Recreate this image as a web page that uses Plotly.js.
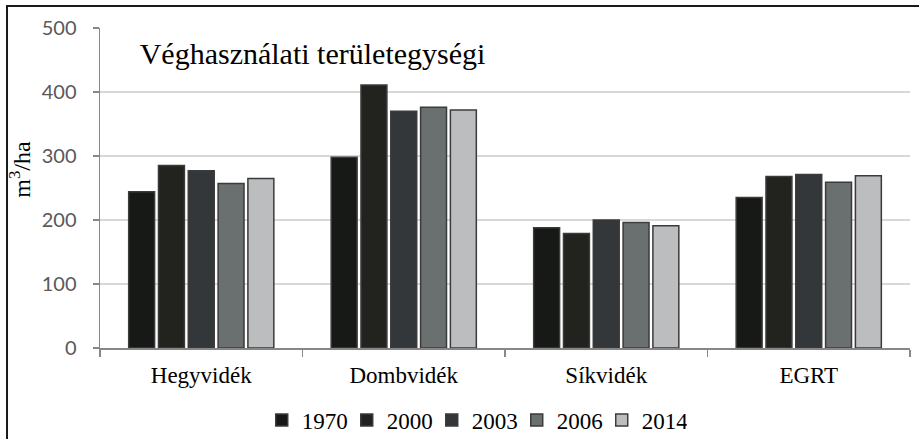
<!DOCTYPE html>
<html>
<head>
<meta charset="utf-8">
<script src="https://cdn.plot.ly/plotly-3.0.1.min.js"></script>
<style>html,body{margin:0;padding:0;background:#fff;}#chart{width:919px;height:439px;}</style>
</head>
<body>
<div id="chart"></div>
<script>
const categories = ["Hegyvidék", "Dombvidék", "Síkvidék", "EGRT"];
const years = ["1970", "2000", "2003", "2006", "2014"];
const v1970 = [244, 298, 188, 235];
const v2000 = [285, 411, 179, 268];
const v2003 = [277, 370, 200, 271];
const v2006 = [257, 376, 196, 259];
const v2014 = [265, 372, 191, 269];
const seriesValues = [v1970, v2000, v2003, v2006, v2014];
const fillColors = ["#171916", "#22231f", "#333739", "#6a6f70", "#bcbdbf"];
const yTitle = "m<sup>3</sup>/ha";

const serif = "Liberation Serif, Times New Roman, serif";

const traces = years.map((y, i) => ({
  type: "bar",
  name: y,
  x: categories,
  y: seriesValues[i],
  marker: {color: fillColors[i], line: {color: "#3b3b3b", width: 1.5}},
  hoverinfo: "x+y+name"
}));

const layout = {
  width: 919, height: 439,
  margin: {l: 100, r: 9, t: 28, b: 91, autoexpand: false},
  paper_bgcolor: "#ffffff",
  plot_bgcolor: "#ffffff",
  barmode: "group",
  bargap: 0.264,
  bargroupgap: 0.13,
  title: {
    text: "Véghasználati területegységi",
    font: {family: serif, size: 30, color: "#000"},
    xref: "paper", x: 0.049, xanchor: "left",
    yref: "container", y: 0.879, yanchor: "middle"
  },
  xaxis: {
    type: "category",
    showline: true, linecolor: "#878787", linewidth: 1.5,
    ticks: "outside", tickson: "boundaries", ticklen: 7, tickcolor: "#878787", tickwidth: 1.5,
    tickfont: {family: serif, size: 23, color: "#000"},
    ticklabelstandoff: 6,
    showgrid: false, zeroline: false
  },
  yaxis: {
    range: [0, 500],
    dtick: 100, tick0: 0,
    showline: true, linecolor: "#878787", linewidth: 1.5,
    ticks: "outside", ticklen: 6, tickcolor: "#878787", tickwidth: 1.5,
    tickfont: {family: "Lato, sans-serif", size: 20, color: "#595959"},
    ticklabelstandoff: 12,
    showgrid: true, gridcolor: "#dcd7d7", gridwidth: 1.5,
    zeroline: false
  },
  annotations: [{
    text: yTitle, textangle: -90,
    xref: "paper", yref: "paper",
    x: -0.0988, y: 0.56, xanchor: "center", yanchor: "middle",
    showarrow: false,
    font: {family: serif, size: 24, color: "#000"}
  }],
  showlegend: true,
  legend: {
    orientation: "h",
    x: 0.462, xanchor: "center",
    y: -0.225, yanchor: "middle",
    font: {family: serif, size: 23, color: "#000"},
    traceorder: "normal",
    itemwidth: 30,
    entrywidth: 40
  },
  shapes: [{
    type: "rect", xref: "paper", yref: "paper",
    x0: -0.1148, x1: 1.5, y0: -1, y1: 1.0688,
    line: {color: "#1a1a1a", width: 2}, fillcolor: "rgba(0,0,0,0)", layer: "above"
  }]
};

Plotly.newPlot("chart", traces, layout, {displayModeBar: false, staticPlot: true});
</script>
</body>
</html>
